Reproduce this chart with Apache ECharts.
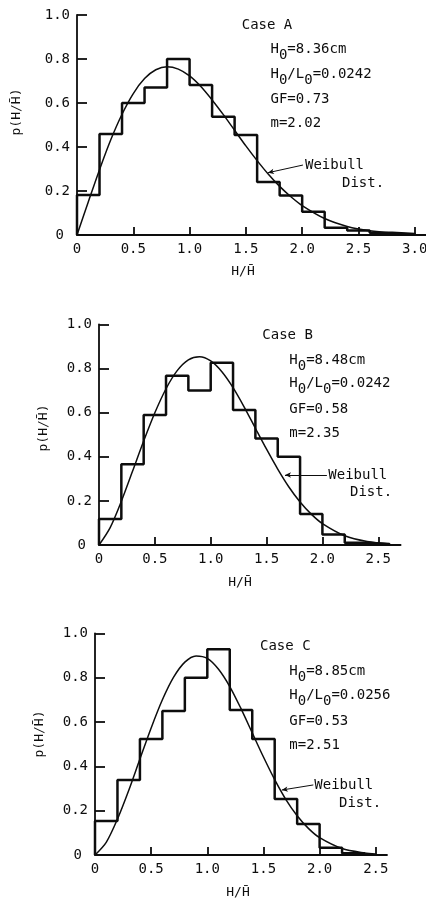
<!DOCTYPE html>
<html>
<head>
<meta charset="utf-8">
<script src="https://cdn.jsdelivr.net/npm/echarts@6/dist/echarts.min.js"></script>
<style>
  html, body { margin: 0; padding: 0; background: #fff; }
  #chart { width: 426px; height: 902px; }
</style>
</head>
<body>
<div id="chart"></div>
<script>
// Wave-height histograms (bin width 0.2 of H/H-bar) with fitted Weibull curves.
const binEdgesA = [0, 0.2, 0.4, 0.6, 0.8, 1.0, 1.2, 1.4, 1.6, 1.8, 2.0, 2.2, 2.4, 2.6, 2.8];
const histA = [0.182, 0.459, 0.600, 0.671, 0.800, 0.682, 0.538, 0.455, 0.241, 0.179, 0.106, 0.033, 0.020, 0.010, 0.005];
const binEdgesB = [0, 0.2, 0.4, 0.6, 0.8, 1.0, 1.2, 1.4, 1.6, 1.8, 2.0, 2.2, 2.4];
const histB = [0.118, 0.366, 0.589, 0.767, 0.700, 0.826, 0.612, 0.482, 0.400, 0.140, 0.048, 0.010, 0.005];
const binEdgesC = [0, 0.2, 0.4, 0.6, 0.8, 1.0, 1.2, 1.4, 1.6, 1.8, 2.0, 2.2];
const histC = [0.153, 0.338, 0.523, 0.650, 0.800, 0.928, 0.654, 0.523, 0.253, 0.140, 0.033, 0.008];
const binWidth = 0.2;

// Weibull distribution curves
const curveXA = [0, 0.1, 0.2, 0.3, 0.4, 0.5, 0.6, 0.7, 0.8, 0.9, 1.0, 1.1, 1.2, 1.3, 1.4, 1.5, 1.6, 1.7, 1.8, 1.9, 2.0, 2.2, 2.4, 2.6, 2.8, 3.0];
const curveA = [0, 0.150, 0.297, 0.433, 0.549, 0.643, 0.711, 0.751, 0.765, 0.754, 0.723, 0.675, 0.614, 0.547, 0.476, 0.405, 0.338, 0.276, 0.221, 0.174, 0.134, 0.075, 0.039, 0.019, 0.009, 0.004];
const curveXB = [0, 0.1, 0.2, 0.3, 0.4, 0.5, 0.6, 0.7, 0.8, 0.9, 1.0, 1.1, 1.2, 1.3, 1.4, 1.5, 1.6, 1.7, 1.8, 1.9, 2.0, 2.2, 2.4, 2.6];
const curveB = [0, 0.079, 0.198, 0.334, 0.471, 0.599, 0.708, 0.790, 0.839, 0.853, 0.834, 0.785, 0.713, 0.625, 0.529, 0.434, 0.344, 0.263, 0.195, 0.140, 0.097, 0.042, 0.016, 0.005];
const curveXC = [0, 0.1, 0.2, 0.3, 0.4, 0.5, 0.6, 0.7, 0.8, 0.9, 1.0, 1.1, 1.2, 1.3, 1.4, 1.5, 1.6, 1.7, 1.8, 1.9, 2.0, 2.2, 2.4, 2.5];
const curveC = [0, 0.057, 0.162, 0.291, 0.433, 0.573, 0.700, 0.802, 0.870, 0.898, 0.887, 0.838, 0.760, 0.660, 0.551, 0.442, 0.340, 0.250, 0.177, 0.120, 0.078, 0.029, 0.009, 0.005];

// Tick values
const xTickLabelsA = [0, 0.5, 1.0, 1.5, 2.0, 2.5, 3.0];
const xTickLabelsBC = [0, 0.5, 1.0, 1.5, 2.0, 2.5];
const yTickLabels = [0, 0.2, 0.4, 0.6, 0.8, 1.0];

// Case annotations
const caseNames = ['Case A', 'Case B', 'Case C'];
const waveHeights = ['8.36cm', '8.48cm', '8.85cm'];
const steepness = ['0.0242', '0.0242', '0.0256'];
const groupFactor = ['0.73', '0.58', '0.53'];
const shapeM = ['2.02', '2.35', '2.51'];

// Leader from the curve to the "Weibull Dist." note (data units)
const leaderA = [[1.696, 0.283], [2.007, 0.318]];
const leaderB = [[1.665, 0.317], [2.040, 0.317]];
const leaderC = [[1.663, 0.293], [1.944, 0.316]];

const FONT = '"DejaVu Sans Mono", monospace';
const INK = '#0d0d0d';

const panels = [
  { grid: { left: 77, top: 15, width: 349, height: 220 }, xMax: 3.1, xLabels: xTickLabelsA,
    edges: binEdgesA, hist: histA, cx: curveXA, cy: curveA, leader: leaderA,
    caseAt: [241.7, 25], paramX: 270.5, paramY: [49.5, 74, 99, 123],
    noteAt: [305, 165, 342, 183], xTitle: [243, 272], yTitle: [17, 112] },
  { grid: { left: 99, top: 324.3, width: 301.6, height: 220.7 }, xMax: 2.7, xLabels: xTickLabelsBC,
    edges: binEdgesB, hist: histB, cx: curveXB, cy: curveB, leader: leaderB,
    caseAt: [262.3, 335], paramX: 289.3, paramY: [360, 383.5, 409, 433],
    noteAt: [328.3, 475, 350, 492.7], xTitle: [240, 583], yTitle: [43.5, 428] },
  { grid: { left: 95, top: 633.3, width: 292, height: 221.7 }, xMax: 2.6, xLabels: xTickLabelsBC,
    edges: binEdgesC, hist: histC, cx: curveXC, cy: curveC, leader: leaderC,
    caseAt: [260, 646.7], paramX: 289.3, paramY: [671.7, 695, 721, 745],
    noteAt: [314.3, 785, 339, 803.3], xTitle: [238, 893], yTitle: [40, 734] }
];

function stepPoints(edges, vals) {
  const pts = [[edges[0], 0]];
  vals.forEach((v, i) => pts.push([edges[i], v]));
  pts.push([edges[edges.length - 1] + binWidth, 0]);
  return pts;
}

const fmt = v => (v === 0 ? '0' : v.toFixed(1));

const grids = [], xAxes = [], yAxes = [], series = [], graphics = [];

const subRich = {
  n: { fontFamily: FONT, fontSize: 14, lineHeight: 14, verticalAlign: 'top' },
  s: { fontFamily: FONT, fontSize: 14, lineHeight: 14, verticalAlign: 'top', padding: [6, 0, 0, 0] }
};

function plainText(x, y, text, size, extra) {
  return Object.assign({
    type: 'text', x: x, y: y, silent: true,
    style: { text: text, fill: INK, font: size + 'px ' + FONT, align: 'left', verticalAlign: 'middle' }
  }, extra || {});
}
function subText(x, yCenter, text) {
  return {
    type: 'text', x: x, y: yCenter - 7, silent: true,
    style: { text: text, fill: INK, font: '14px ' + FONT, align: 'left', verticalAlign: 'top', rich: subRich }
  };
}

panels.forEach((p, i) => {
  grids.push(Object.assign({ containLabel: false, outerBoundsMode: 'none' }, p.grid));
  xAxes.push({
    type: 'value', gridIndex: i, min: 0, max: p.xMax,
    axisLine: { show: true, onZero: false, lineStyle: { color: INK, width: 1.8 } },
    axisTick: { show: true, inside: true, length: 8, customValues: p.xLabels.filter(v => v > 0),
      lineStyle: { color: INK, width: 1.8 } },
    axisLabel: { customValues: p.xLabels, formatter: fmt, fontFamily: FONT, fontSize: 14, color: INK, margin: 7 },
    splitLine: { show: false }
  });
  yAxes.push({
    type: 'value', gridIndex: i, min: 0, max: 1,
    axisLine: { show: true, onZero: false, lineStyle: { color: INK, width: 1.8 } },
    axisTick: { show: true, inside: true, length: 10, customValues: yTickLabels.filter(v => v > 0),
      lineStyle: { color: INK, width: 1.8 } },
    axisLabel: {
      customValues: yTickLabels, fontFamily: FONT, fontSize: 14, color: INK, margin: 7,
      formatter: v => (v === 0 ? '{z|0}' : v.toFixed(1)),
      rich: { z: { fontFamily: FONT, fontSize: 14, color: INK, padding: [0, 6, 0, 0] } }
    },
    splitLine: { show: false }
  });

  series.push({
    type: 'line', xAxisIndex: i, yAxisIndex: i, step: 'end', symbol: 'none',
    data: stepPoints(p.edges, p.hist),
    lineStyle: { color: INK, width: 2.5 }, silent: true, z: 3
  });
  series.push({
    type: 'line', xAxisIndex: i, yAxisIndex: i, symbol: 'none', smooth: 0.3,
    data: p.cx.map((x, k) => [x, p.cy[k]]),
    lineStyle: { color: INK, width: 1.5 }, silent: true, z: 4,
    markLine: {
      silent: true, symbol: ['arrow', 'none'], symbolSize: [4, 6], animation: false,
      label: { show: false },
      lineStyle: { color: INK, width: 1, type: 'solid' },
      data: [[{ coord: p.leader[0] }, { coord: p.leader[1] }]]
    }
  });

  graphics.push(plainText(p.caseAt[0], p.caseAt[1], caseNames[i], 14));
  graphics.push(subText(p.paramX, p.paramY[0], '{n|H}{s|0}{n|=' + waveHeights[i] + '}'));
  graphics.push(subText(p.paramX, p.paramY[1], '{n|H}{s|0}{n|/L}{s|0}{n|=' + steepness[i] + '}'));
  graphics.push(plainText(p.paramX, p.paramY[2], 'GF=' + groupFactor[i], 14));
  graphics.push(plainText(p.paramX, p.paramY[3], 'm=' + shapeM[i], 14));
  graphics.push(plainText(p.noteAt[0], p.noteAt[1], 'Weibull', 14));
  graphics.push(plainText(p.noteAt[2], p.noteAt[3], 'Dist.', 14));
  graphics.push({
    type: 'text', x: p.xTitle[0], y: p.xTitle[1], silent: true,
    style: { text: 'H/H\u0304', fill: INK, font: '13px ' + FONT, align: 'center', verticalAlign: 'middle' }
  });
  graphics.push({
    type: 'text', x: p.yTitle[0], y: p.yTitle[1], rotation: Math.PI / 2, silent: true,
    style: { text: 'p(H/H\u0304)', fill: INK, font: '13px ' + FONT, align: 'center', verticalAlign: 'middle' }
  });
});

const chart = echarts.init(document.getElementById('chart'), null, { renderer: 'canvas' });
chart.setOption({
  animation: false,
  backgroundColor: '#ffffff',
  grid: grids,
  xAxis: xAxes,
  yAxis: yAxes,
  series: series,
  graphic: graphics
});
</script>
</body>
</html>
